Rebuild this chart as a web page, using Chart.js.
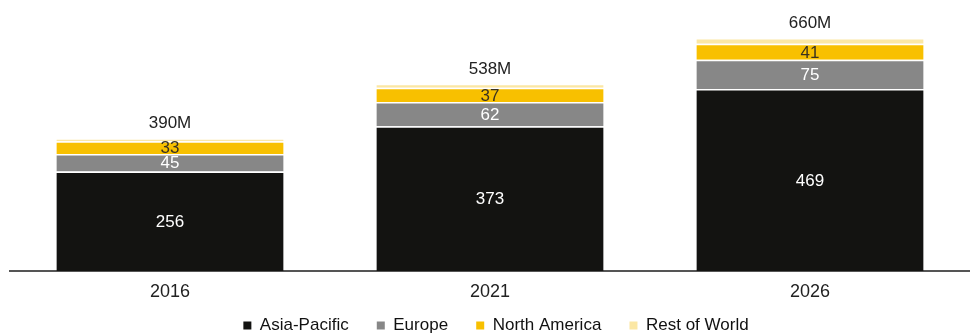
<!DOCTYPE html>
<html>
<head>
<meta charset="utf-8">
<script src="https://cdn.jsdelivr.net/npm/chart.js@4"></script>
<style>
  html, body { margin: 0; padding: 0; background: #fff; }
  #wrap { width: 970px; height: 333px; }
</style>
</head>
<body>
<div id="wrap"><canvas id="marketChart"></canvas></div>
<script>
// Data
const years = ['2016', '2021', '2026'];
const asiaPacific = [256, 373, 469];
const europe = [45, 62, 75];
const northAmerica = [33, 37, 41];
const restOfWorld = [8, 10, 15];
const totals = ['390M', '538M', '660M'];

const FONT = '"Liberation Sans", Arial, sans-serif';

// value labels inside the segments + totals over each stack
const labelPlugin = {
    id: 'segmentLabels',
    afterDatasetsDraw(chart) {
        const ctx = chart.ctx;
        ctx.save();
        ctx.font = '17px ' + FONT;
        ctx.textAlign = 'center';
        ctx.textBaseline = 'middle';
        const colors = ['#ffffff', '#ffffff', '#3a3220'];
        [0, 1, 2].forEach(di => {
            const meta = chart.getDatasetMeta(di);
            meta.data.forEach((bar, i) => {
                const mid = (bar.y + bar.base) / 2;
                ctx.fillStyle = colors[di];
                ctx.fillText(chart.data.datasets[di].data[i], bar.x, mid + 1);
            });
        });
        const top = chart.getDatasetMeta(3);
        ctx.fillStyle = '#222222';
        top.data.forEach((bar, i) => {
            ctx.fillText(totals[i], bar.x, bar.y - 15);
        });
        ctx.restore();
    }
};

new Chart(document.getElementById('marketChart'), {
    type: 'bar',
    data: {
        labels: years,
        datasets: [
            { label: 'Asia-Pacific', data: asiaPacific, backgroundColor: '#131311' },
            { label: 'Europe', data: europe, backgroundColor: '#878787' },
            { label: 'North America', data: northAmerica, backgroundColor: '#f8c000' },
            { label: 'Rest of World', data: restOfWorld, backgroundColor: '#fbe7a4' }
        ].map(ds => Object.assign(ds, {
            borderColor: '#ffffff',
            borderWidth: { top: 1.5 },
            borderSkipped: 'bottom',
            categoryPercentage: 0.71,
            barPercentage: 1
        }))
    },
    options: {
        responsive: true,
        maintainAspectRatio: false,
        animation: false,
        layout: { padding: { left: 10, right: -12, top: 0, bottom: -11 } },
        scales: {
            x: {
                stacked: true,
                grid: { display: false, drawTicks: false },
                border: { color: '#555555', width: 2 },
                ticks: {
                    color: '#222222',
                    padding: 10,
                    font: { family: FONT, size: 18 }
                }
            },
            y: {
                stacked: true,
                display: false,
                min: 0,
                max: 698
            }
        },
        plugins: {
            legend: {
                position: 'bottom',
                labels: {
                    boxWidth: 8,
                    boxHeight: 8,
                    padding: 4.5,
                    color: '#111111',
                    font: { family: FONT, size: 17 },
                    generateLabels(chart) {
                        const items = Chart.defaults.plugins.legend.labels.generateLabels(chart);
                        items.forEach((it, i) => {
                            it.lineWidth = 0;
                            if (i < items.length - 1) it.text = it.text + '     ';
                        });
                        return items;
                    }
                }
            },
            tooltip: { enabled: false }
        }
    },
    plugins: [labelPlugin]
});
</script>
</body>
</html>
